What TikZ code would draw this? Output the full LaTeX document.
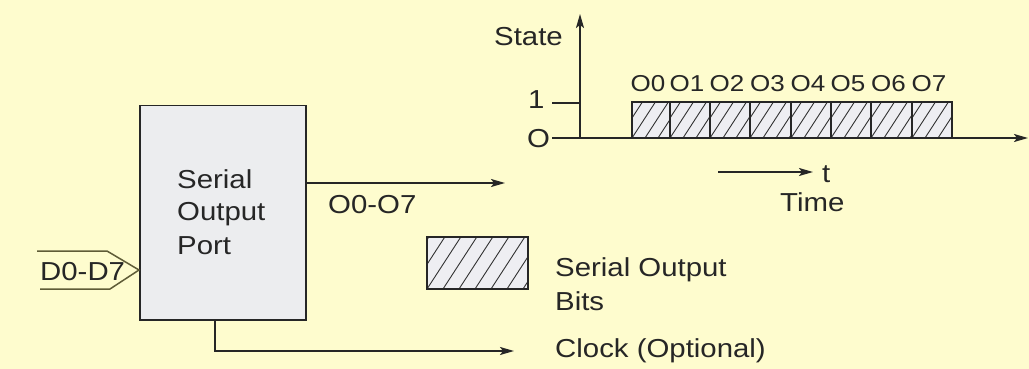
\documentclass[tikz,border=0pt]{standalone}
\usepackage{fontspec}
\setmainfont{Liberation Sans}[FakeStretch=1.13]
\usetikzlibrary{arrows.meta}
\definecolor{bgyellow}{RGB}{254,252,206}
\definecolor{boxgrey}{RGB}{236,237,239}
\definecolor{olive}{RGB}{95,92,55}
\definecolor{hatchbg}{RGB}{238,238,242}
\tikzset{
  lbl/.style={inner sep=0pt, font=\fontsize{26}{30}\selectfont, text=black!85},
  smalllbl/.style={inner sep=0pt, font=\fontsize{23}{26}\selectfont, text=black!85},
  wire/.style={line width=1.6pt, black!85},
  arr/.style={wire, -{Stealth[length=14pt,width=8pt,inset=3pt]}},
  hline/.style={line width=0.9pt, black!80},
  hbox/.style={line width=1.5pt, black!85},
}
\newcommand\HatchRect[5]{%
  \begin{scope}
    \clip (#1,#2) rectangle (#3,#4);
    \fill[hatchbg] (#1,#2) rectangle (#3,#4);
    \foreach \k in {-10,...,14}
      \draw[hline] ({#1+\k*#5},#4) -- ++({0.65*(#4-#2)},{-(#4-#2)});
  \end{scope}
  \draw[hbox] (#1,#2) rectangle (#3,#4);}
\begin{document}
\begin{tikzpicture}[x=1pt,y=-1pt]
\useasboundingbox (0,0) rectangle (1029,369);
\fill[bgyellow] (0,0) rectangle (1029,369);

% port box
\node[draw=black!85, line width=1.5pt, fill=boxgrey, minimum width=166pt, minimum height=214pt,
      anchor=north west, inner sep=0pt] (port) at (139,105) {};
\node[lbl, anchor=base west] (l1) at (177,188) {Serial};
\node[lbl, anchor=base west] (l2) at (177,220) {Output};
\node[lbl, anchor=base west] (l3) at (177,254) {Port};

% D0-D7 input
\coordinate (dtip) at (139,270);
\coordinate (dt1) at (37,251);
\coordinate (dt2) at (107,251);
\coordinate (db1) at (40,289);
\coordinate (db2) at (110,289);
\draw[line width=1.5pt, olive] (dt1) -- (dt2) -- (dtip) -- (db2) -- (db1);
\node[lbl, anchor=base west] (din) at (40,280) {D0-D7};

% O0-O7 output
\coordinate (oend) at (505,183);
\draw[arr] (port.east |- oend) -- (oend);
\node[lbl, anchor=base west] (olbl) at (328,213) {O0-O7};

% clock
\coordinate (cbend) at (215,351);
\coordinate (cend) at (514,351);
\draw[arr] (port.south -| cbend) -- (cbend) -- (cend);
\node[lbl, anchor=base west] (clk) at (555,357) {Clock (Optional)};

% legend
\HatchRect{427}{237}{528}{289}{16}
\node[lbl, anchor=base west] (leg1) at (555,276) {Serial Output};
\node[lbl, anchor=base west] (leg2) at (555,310) {Bits};

% timing axes
\coordinate (org) at (580,138);
\coordinate (ytop) at (580,14);
\coordinate (xstart) at (552,138);
\coordinate (xend) at (1028,138);
\coordinate (t1a) at (552,103);
\coordinate (t1b) at (580,103);
\draw[arr] (org) -- (ytop);
\draw[arr] (xstart) -- (xend);
\draw[wire] (t1a) -- (t1b);
\node[lbl, anchor=base east] (state) at (563,46) {State};
\node[lbl, anchor=base west] (one) at (528,109) {1};
\node[lbl, anchor=base west] (zero) at (527,147) {O};

% bits
\foreach \xa/\xb/\i in {632/670/0,670/710/1,710/750/2,750/791/3,791/831/4,831/871/5,871/912/6,912/952/7}{
  \HatchRect{\xa}{102}{\xb}{138}{13}
  \node[smalllbl, anchor=base] (o\i) at ({(\xa+\xb)/2-3},92) {O\i};
}

% time
\coordinate (ta) at (718,172);
\coordinate (tb) at (813,172);
\draw[arr] (ta) -- (tb);
\node[lbl, anchor=base west] (tlbl) at (822,182) {t};
\node[lbl, anchor=base west] (time) at (780,211) {Time};
\end{tikzpicture}
\end{document}
